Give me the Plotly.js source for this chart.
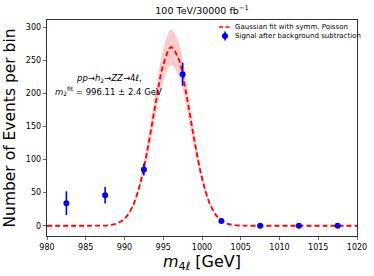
<!DOCTYPE html>
<html><head><meta charset="utf-8">
<script src="https://cdn.plot.ly/plotly-3.0.1.min.js"></script>
<style>html,body{margin:0;padding:0;background:#fff}#c{width:374px;height:276px}</style>
</head><body><div id="c"></div>
<script>
// Signal after background subtraction
const binCenters = [982.5, 987.5, 992.5, 997.5, 1002.5, 1007.5, 1012.5, 1017.5];
const signal     = [34, 46, 85, 229, 7, 0, 0, 0];
const signalErr  = [18, 12.5, 9, 17.5, 2, 0.5, 0.5, 0.5];

// Gaussian fit curve
const fitX     = [980, 984, 986, 987, 988, 989, 990, 991, 992, 993, 994, 995, 996, 997, 998, 999, 1000, 1001, 1002, 1003, 1004, 1005, 1006, 1008, 1020];
const fitY     = [0, 0, 0.05, 0.2, 0.9, 3.4, 10.7, 28.2, 62.7, 117.3, 184, 243, 269.8, 251.7, 197.4, 130.1, 72.1, 33.6, 13.2, 4.3, 1.2, 0.3, 0.05, 0, 0];
const fitUpper = [0, 0, 0.06, 0.22, 1.0, 3.7, 11.8, 31.0, 69.0, 129.0, 202.4, 267.3, 296.8, 276.9, 217.1, 143.1, 79.3, 37.0, 14.5, 4.7, 1.3, 0.33, 0.06, 0, 0];
const fitLower = [0, 0, 0.04, 0.18, 0.8, 3.1, 9.6, 25.4, 56.4, 105.6, 165.6, 218.7, 242.8, 226.5, 177.7, 117.1, 64.9, 30.2, 11.9, 3.9, 1.1, 0.27, 0.04, 0, 0];

const xTicks = [980, 985, 990, 995, 1000, 1005, 1010, 1015, 1020];
const yTicks = [0, 50, 100, 150, 200, 250, 300];
const legendLabels = ['Gaussian fit with symm. Poisson', 'Signal after background subtraction'];

const F = 'DejaVu Sans, sans-serif';

const traces = [
  {x: fitX, y: fitLower, type: 'scatter', mode: 'lines', line: {width: 0, shape: 'spline'}, showlegend: false, hoverinfo: 'skip'},
  {x: fitX, y: fitUpper, type: 'scatter', mode: 'lines', line: {width: 0, shape: 'spline'}, fill: 'tonexty', fillcolor: 'rgba(255,0,0,0.2)', showlegend: false, hoverinfo: 'skip'},
  {x: fitX, y: fitY, type: 'scatter', mode: 'lines', name: legendLabels[0], showlegend: false,
   line: {color: '#ff0000', width: 1.8, dash: '5px,3px', shape: 'spline'}},
  {x: binCenters, y: signal, type: 'scatter', mode: 'markers', name: legendLabels[1], showlegend: false,
   marker: {color: '#0000ff', size: 6, symbol: 'circle'},
   error_y: {type: 'data', array: signalErr, visible: true, color: '#0000ff', thickness: 1.6, width: 0}}
];

// custom legend (plot-area fractions)
const pw = 310, ph = 216;
const lgX0 = (219 - 47) / pw, lgX1 = (231 - 47) / pw, lgXm = (225 - 47) / pw, lgXt = (233 - 47) / pw;
const lgY1 = 1 - (27 - 20) / ph, lgY2 = 1 - (36 - 20) / ph;

const layout = {
  width: 374, height: 276,
  margin: {l: 47, r: 17, t: 20, b: 40},
  paper_bgcolor: '#fff', plot_bgcolor: '#fff',
  font: {family: F, color: '#000', size: 8},
  title: {text: '100 TeV/30000 fb<sup>−1</sup>', font: {family: F, size: 9.5, color: '#000'}, x: 0.54, xanchor: 'center', y: 0.975, yanchor: 'top'},
  showlegend: false,
  xaxis: {range: [980, 1020], tickvals: xTicks, ticktext: xTicks.map(String), ticks: 'outside', ticklen: 3.5, tickwidth: 0.8,
          showline: true, linecolor: '#000', linewidth: 0.8, mirror: true, showgrid: false, zeroline: false,
          tickfont: {family: F, size: 8},
          title: {text: '<i>m</i><sub>4<i>ℓ</i></sub> [GeV]', font: {family: F, size: 16}, standoff: 4}},
  yaxis: {range: [-15.5, 311], tickvals: yTicks, ticktext: yTicks.map(String), ticks: 'outside', ticklen: 3.5, tickwidth: 0.8,
          showline: true, linecolor: '#000', linewidth: 0.8, mirror: true, showgrid: false, zeroline: false,
          tickfont: {family: F, size: 8},
          title: {text: 'Number of Events per bin', font: {family: F, size: 15.5}, standoff: 6}},
  shapes: [
    {type: 'line', xref: 'paper', yref: 'paper', x0: lgX0, x1: lgX1, y0: lgY1, y1: lgY1, line: {color: '#ff0000', width: 1.6, dash: '4px,2.5px'}},
    {type: 'line', xref: 'paper', yref: 'paper', x0: lgXm, x1: lgXm, y0: lgY2 - 4.5 / ph, y1: lgY2 + 4.5 / ph, line: {color: '#0000ff', width: 1.6}},
    {type: 'circle', xref: 'paper', yref: 'paper', x0: lgXm - 3 / pw, x1: lgXm + 3 / pw, y0: lgY2 - 3 / ph, y1: lgY2 + 3 / ph, fillcolor: '#0000ff', line: {width: 0}}
  ],
  annotations: [
    {xref: 'paper', yref: 'paper', x: lgXt, y: lgY1, xanchor: 'left', yanchor: 'middle', showarrow: false, text: legendLabels[0], font: {family: F, size: 7}},
    {xref: 'paper', yref: 'paper', x: lgXt, y: lgY2, xanchor: 'left', yanchor: 'middle', showarrow: false, text: legendLabels[1], font: {family: F, size: 7}},
    {xref: 'paper', yref: 'paper', x: (109 - 47) / pw, y: 1 - (78 - 20) / ph, xanchor: 'center', yanchor: 'middle', showarrow: false,
     font: {family: F, size: 8.5, color: '#000'}, text: '<i>pp</i>→<i>h</i><sub>2</sub>→<i>ZZ</i>→4<i>ℓ</i>,'},
    {xref: 'paper', yref: 'paper', x: (108 - 47) / pw, y: 1 - (91 - 20) / ph, xanchor: 'center', yanchor: 'middle', showarrow: false,
     font: {family: F, size: 8.5, color: '#000'}, text: '<i>m</i><sub>2</sub><sup>fit</sup> = 996.11 ± 2.4 GeV'}
  ]
};

Plotly.newPlot('c', traces, layout, {displayModeBar: false, staticPlot: true});
</script></body></html>
